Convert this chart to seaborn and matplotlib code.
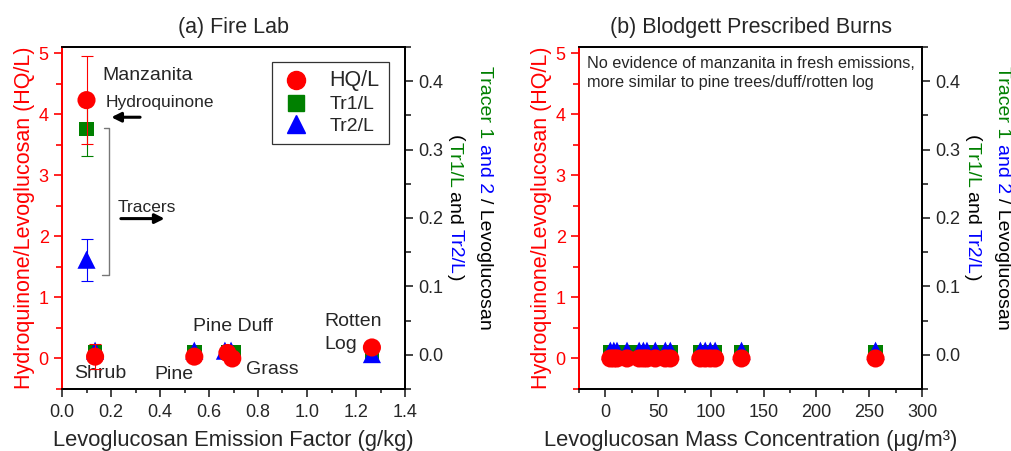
import matplotlib
matplotlib.use("Agg")
import matplotlib.pyplot as plt
from matplotlib.lines import Line2D
from matplotlib.ticker import MultipleLocator, FormatStrFormatter
import seaborn as sns

# Fire lab (panel a)
fire_ef = [0.10, 0.135, 0.54, 0.675, 0.695, 1.265]
fire_hq = [4.23, 0.03, 0.03, 0.09, 0.0, 0.18]
fire_hq_err = [0.72, 0.20, 0.0, 0.0, 0.0, 0.0]
fire_tr1_ef = [0.10, 0.135, 0.54, 0.68, 0.70, 1.265]
fire_tr1 = [0.330, 0.003, 0.003, 0.003, 0.003, -0.002]
fire_tr1_err = [0.040, 0.0, 0.0, 0.0, 0.0, 0.0]
fire_tr2_ef = [0.10, 0.135, 0.54, 0.665, 0.69, 1.265]
fire_tr2 = [0.139, 0.006, 0.006, 0.006, 0.006, 0.001]
fire_tr2_err = [0.031, 0.0, 0.0, 0.0, 0.0, 0.0]
fire_labels = ["Manzanita", "Shrub", "Pine", "Pine Duff", "Grass", "Rotten\nLog"]

# Blodgett prescribed burns (panel b)
blod_conc = [4.7, 8.0, 11.0, 20.5, 32.0, 36.0, 39.4, 47.3, 56.8, 61.5,
             90.0, 94.6, 99.4, 104.0, 129.0, 256.0]
blod_hq = [0.0] * len(blod_conc)
blod_tr1 = [0.003] * len(blod_conc)
blod_tr2 = [0.006] * len(blod_conc)

sns.set_style("ticks")
plt.rcParams["font.family"] = ["Liberation Sans", "DejaVu Sans"]

fig = plt.figure(figsize=(10.12, 4.51), dpi=100)
ax_a = fig.add_axes([62 / 1012, 62 / 451, 343 / 1012, 342 / 451])
ax_b = fig.add_axes([579 / 1012, 62 / 451, 343 / 1012, 342 / 451])

RED, GREEN, BLUE = "#ff0000", "#008000", "#0000ff"


def style_axes(ax, tw, xmaj, xmin):
    ax.set_ylim(-0.5, 5.1)
    tw.set_ylim(-0.05, 0.45)
    ax.yaxis.set_major_locator(MultipleLocator(1))
    ax.yaxis.set_minor_locator(MultipleLocator(0.5))
    tw.yaxis.set_major_locator(MultipleLocator(0.1))
    tw.yaxis.set_minor_locator(MultipleLocator(0.05))
    tw.yaxis.set_major_formatter(FormatStrFormatter("%.1f"))
    ax.xaxis.set_major_locator(MultipleLocator(xmaj))
    ax.xaxis.set_minor_locator(MultipleLocator(xmin))
    for sp in list(ax.spines.values()) + list(tw.spines.values()):
        sp.set_linewidth(1.3)
        sp.set_color("black")
    ax.spines["left"].set_color(RED)
    tw.spines["left"].set_color(RED)
    ax.tick_params(axis="y", which="major", colors=RED, labelsize=13,
                   direction="out", length=6, width=1.2)
    ax.tick_params(axis="y", which="minor", colors=RED, direction="out",
                   length=4, width=1.2)
    ax.tick_params(axis="x", which="major", direction="out", length=6,
                   width=1.2, labelsize=13, pad=5, top=False)
    ax.tick_params(axis="x", which="minor", direction="out", length=3,
                   width=1.2, top=False)
    tw.tick_params(axis="y", which="major", direction="out", length=6,
                   width=1.2, labelsize=13)
    tw.tick_params(axis="y", which="minor", direction="out", length=4,
                   width=1.2)
    tw.tick_params(axis="x", which="both", bottom=False, top=True,
                   labelbottom=False, labeltop=False, direction="in",
                   length=5, width=1.2)
    ax.set_ylabel("Hydroquinone/Levoglucosan (HQ/L)", color=RED,
                  fontsize=15.5, labelpad=3)
    ax.set_zorder(tw.get_zorder() + 1)
    ax.patch.set_visible(False)


def draw_series(ax, tw, x1, hq, x2, tr1, x3, tr2):
    sns.scatterplot(x=x2, y=tr1, ax=tw, color=GREEN, marker="s", s=110,
                    edgecolor="none", zorder=3)
    sns.scatterplot(x=x3, y=tr2, ax=tw, color=BLUE, marker="^", s=170,
                    edgecolor="none", zorder=4)
    sns.scatterplot(x=x1, y=hq, ax=ax, color=RED, marker="o", s=170,
                    edgecolor="none", zorder=5)


# ---- panel a ----
tw_a = ax_a.twinx()
draw_series(ax_a, tw_a, fire_ef, fire_hq, fire_tr1_ef, fire_tr1,
            fire_tr2_ef, fire_tr2)
ax_a.errorbar(fire_ef[:2], fire_hq[:2], yerr=fire_hq_err[:2], fmt="none",
              ecolor=RED, elinewidth=0.8, capsize=4, capthick=0.8, zorder=4)
tw_a.errorbar(fire_tr1_ef[:1], fire_tr1[:1], yerr=fire_tr1_err[:1],
              fmt="none", ecolor=GREEN, elinewidth=0.8, capsize=4,
              capthick=0.8, zorder=2)
tw_a.errorbar(fire_tr2_ef[:1], fire_tr2[:1], yerr=fire_tr2_err[:1],
              fmt="none", ecolor=BLUE, elinewidth=0.8, capsize=4,
              capthick=0.8, zorder=2)
ax_a.set_xlim(0, 1.4)
style_axes(ax_a, tw_a, 0.2, 0.1)
ax_a.xaxis.set_major_formatter(FormatStrFormatter("%.1f"))
ax_a.set_xlabel("Levoglucosan Emission Factor (g/kg)", fontsize=15.8,
                labelpad=6)
ax_a.set_title("(a) Fire Lab", fontsize=15.5, pad=10)

ax_a.text(0.165, 4.64, fire_labels[0], fontsize=14, ha="left", va="center")
ax_a.text(0.178, 4.19, "Hydroquinone", fontsize=12.5, ha="left", va="center")
ax_a.annotate("", xy=(0.19, 3.95), xytext=(0.33, 3.95),
              arrowprops=dict(arrowstyle="-|>", lw=2.2, color="black",
                              mutation_scale=14))
ax_a.plot([0.17, 0.19, 0.19, 0.165], [3.78, 3.78, 1.36, 1.36],
          color="#777777", lw=1)
ax_a.text(0.229, 2.47, "Tracers", fontsize=12.5, ha="left", va="center")
ax_a.annotate("", xy=(0.43, 2.29), xytext=(0.229, 2.29),
              arrowprops=dict(arrowstyle="-|>", lw=2.2, color="black",
                              mutation_scale=14))
ax_a.text(0.155, -0.25, fire_labels[1], fontsize=14, ha="center", va="center")
ax_a.text(0.457, -0.26, fire_labels[2], fontsize=14, ha="center", va="center")
ax_a.text(0.698, 0.52, fire_labels[3], fontsize=14, ha="center", va="center")
ax_a.text(0.857, -0.18, fire_labels[4], fontsize=14, ha="center", va="center")
ax_a.text(1.07, 0.42, fire_labels[5], fontsize=14, ha="left", va="center",
          linespacing=1.45)

handles = [
    Line2D([], [], marker="o", color=RED, ls="none", markersize=13),
    Line2D([], [], marker="s", color=GREEN, ls="none", markersize=11),
    Line2D([], [], marker="^", color=BLUE, ls="none", markersize=13),
]
leg = ax_a.legend(handles, ["HQ/L", "Tr1/L", "Tr2/L"], loc="upper right",
                  bbox_to_anchor=(0.952, 0.957), borderaxespad=0,
                  fontsize=14, frameon=True, fancybox=False,
                  edgecolor="black", handletextpad=1.0, borderpad=0.45,
                  labelspacing=0.22, handlelength=1.5)
leg.get_frame().set_linewidth(0.9)
leg.get_texts()[0].set_fontsize(15.5)

# ---- panel b ----
tw_b = ax_b.twinx()
draw_series(ax_b, tw_b, blod_conc, blod_hq, blod_conc, blod_tr1,
            blod_conc, blod_tr2)
ax_b.set_xlim(-25, 300)
style_axes(ax_b, tw_b, 50, 25)
ax_b.set_xlabel("Levoglucosan Mass Concentration (μg/m³)", fontsize=15.8,
                labelpad=6)
ax_b.set_title("(b) Blodgett Prescribed Burns", fontsize=15.5, pad=10)
ax_b.text(-17, 4.67, "No evidence of manzanita in fresh emissions,\n"
          "more similar to pine trees/duff/rotten log", fontsize=11.7,
          ha="left", va="center", linespacing=1.3)

# ---- multi-colored right-hand labels ----
renderer = fig.canvas.get_renderer()
W, H = fig.bbox.width, fig.bbox.height


def stacked_label(x_px, y_px, parts):
    y = y_px
    for txt, col in parts:
        t = fig.text(x_px / W, 1 - y / H, txt, color=col, fontsize=14,
                     rotation=270, ha="center", va="top")
        bb = t.get_window_extent(renderer)
        y += bb.height


line1 = [("Tracer 1 ", GREEN), ("and 2 ", BLUE), ("/ Levoglucosan", "black")]
line2 = [("(", "black"), ("Tr1/L ", GREEN), ("and ", "black"),
         ("Tr2/L", BLUE), (")", "black")]
for off in (0, 517):
    stacked_label(485 + off, 66, line1)
    stacked_label(455 + off, 135, line2)

fig.savefig("out.png", dpi=100)
